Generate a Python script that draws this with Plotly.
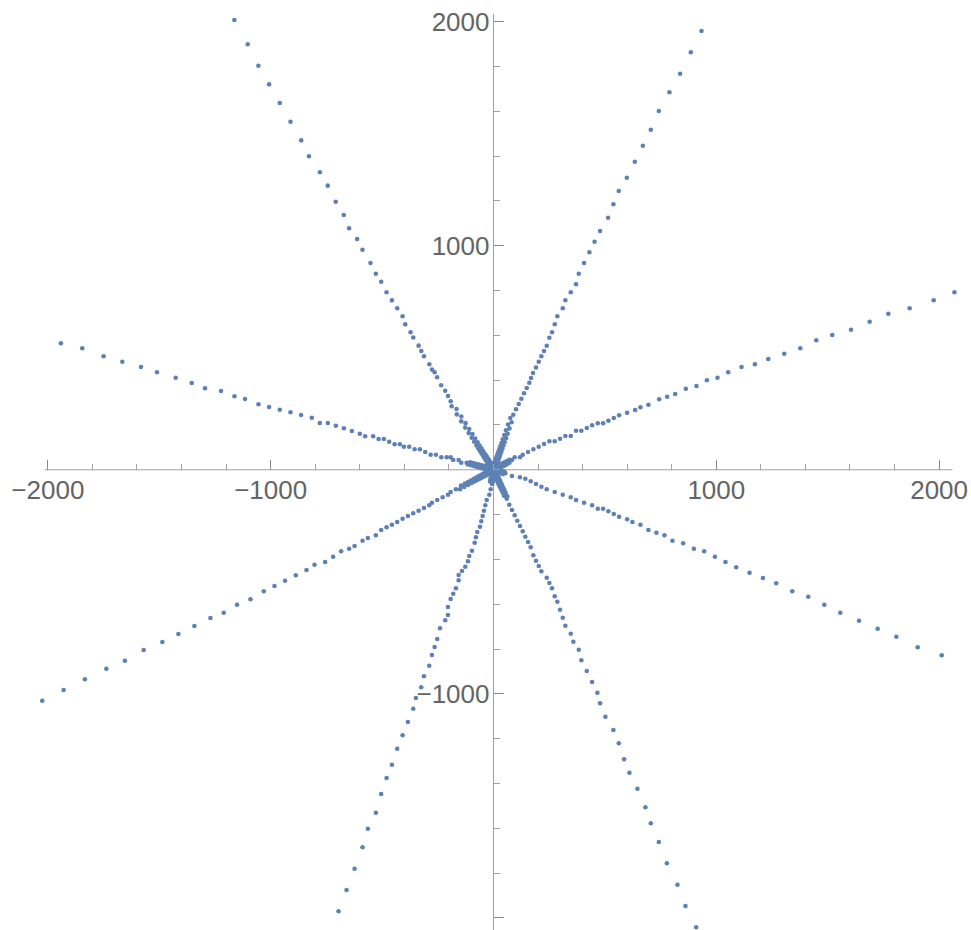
import math
import plotly.graph_objects as go

# ---- data (data units) ----
ul_x = [-1163, -1103, -1055, -1007, -959, -911, -863, -828, -779, -744, -708, -672, -648, -612, -588,
        -552, -528, -504, -480, -456, -432, -408, -396, -372, -360, -336, -324, -312, -288, -276, -264,
        -253, -235, -217, -204, -192]
ul_y = [2007, 1899, 1803, 1720, 1637, 1553, 1470, 1399, 1328, 1268, 1196, 1137, 1078, 1030, 982,
        923, 875, 839, 792, 756, 721, 685, 649, 614, 590, 554, 530, 507, 471, 447, 435,
        413, 377, 353, 329, 306]

ur_x = [933.5, 885.9, 837.8, 789.8, 742.1, 706.2, 670.3, 634.3, 598.4, 562.4, 538.2, 514.4, 478.4,
        453.7, 430.4, 406.6, 382.8, 370.6, 346.8, 322.6, 310.9, 286.6, 274.9, 262.8, 250.7, 239.0,
        226.9, 214.7, 203.1, 190.9, 177.5, 168.5, 160.8, 149.1, 137.0, 124.9, 113.2, 101.1, 88.9]
ur_y = [1958.1, 1863.0, 1767.5, 1684.5, 1601.1, 1517.6, 1446.2, 1374.8, 1303.4, 1244.1, 1184.7,
        1124.9, 1065.6, 1017.8, 970.5, 922.8, 875.1, 827.8, 792.1, 756.4, 720.7, 685.0, 649.3,
        613.6, 589.5, 553.8, 530.1, 506.5, 482.4, 456.5, 432.0, 409.6, 388.7, 365.0, 341.4, 317.3,
        293.6, 270.0, 245.9]

rup_x = [2068.8, 1975.8, 1867.9, 1772.2, 1688.2, 1604.7, 1520.7, 1448.8, 1376.9, 1305.0, 1233.2,
         1173.4, 1113.2, 1053.5, 1005.4, 957.8,
         911.1, 863.4, 815.4, 779.4, 743.5, 695.4, 659.5, 635.7, 599.7, 563.8, 540.0, 515.7, 491.9,
         468.1,
         442.5, 418.7, 394.4, 370.6, 346.8, 322.6, 298.7, 274.9, 250.7, 226.9, 203.1, 178.8, 155.0,
         131.2, 119.0, 95.2, 83.1]
rup_y = [792.1, 756.4, 720.7, 696.6, 660.9, 625.2, 601.5, 577.9, 542.2, 518.1, 494.4, 470.8, 458.7,
         435.1, 411.0, 399.4,
         373.9, 361.9, 338.2, 326.2, 314.6, 290.5, 278.9, 266.8, 254.8, 243.2, 231.1, 219.1, 207.5,
         207.5,
         198.6, 186.5, 174.5, 174.5, 150.8, 150.8, 138.8, 127.2, 127.2, 115.1, 103.1, 91.5, 79.4,
         67.4, 55.8, 55.8, 43.7]

rdn_x = [2011.7, 1903.9, 1808.2, 1724.2, 1640.6, 1556.6, 1484.7, 1412.9, 1341.0, 1269.1, 1209.4,
         1149.2, 1089.4, 1041.3, 993.7, 945.6,
         899.4, 851.3, 803.2, 767.3, 731.4, 695.4, 659.5, 623.5, 599.7, 563.8, 540.0, 515.7, 491.9,
         468.1,
         442.5, 406.6, 370.6, 346.8, 310.9, 274.9, 239.0, 214.7, 190.9, 167.1, 142.9, 119.0, 83.1, 53.0]
rdn_y = [-827.8, -792.1, -744.7, -709.1, -673.4, -637.7, -602.0, -566.3, -542.2, -506.5, -482.8,
         -459.2, -435.1, -411.4, -387.8, -363.7,
         -352.1, -328.0, -316.4, -292.3, -280.7, -268.6, -245.0, -232.9, -220.9, -209.3, -197.2,
         -185.2, -173.6, -173.6,
         -158.4, -146.8, -134.8, -122.7, -111.1, -99.1, -87.0, -75.4, -63.4, -51.3, -39.7, -33.5,
         -27.7, -15.6]

drt_x = [909.7, 861.6, 825.7, 778.1, 742.1, 706.2, 681.9, 646.0, 610.1, 586.3, 562.4, 538.2, 502.2,
         478.4, 466.3, 442.5,
         418.7, 394.4, 382.8, 358.5, 346.8, 322.6, 310.9, 298.7, 286.6, 274.9, 262.8, 250.7, 239.0,
         214.7, 203.1, 190.9, 178.8, 167.1, 155.0, 142.9, 131.2, 119.0, 106.9, 95.2, 83.1, 71.0, 59.3]
drt_y = [-2041.5, -1946.5, -1851.4, -1755.9, -1660.9, -1577.4, -1506.0, -1423.0, -1351.6, -1291.8,
         -1220.4, -1161.1, -1101.7, -1041.9, -994.6, -946.9,
         -897.8, -850.1, -802.8, -767.1, -731.4, -695.7, -660.0, -624.3, -588.6, -564.5, -528.8,
         -505.1, -481.5,
         -452.9, -429.3, -405.6, -381.5, -345.8, -322.2, -298.5, -274.4, -250.8, -227.1, -203.0,
         -179.4, -155.7, -129.0]

dlt_x = [-695.4, -659.5, -623.5, -587.6, -563.8, -527.9, -504.0, -479.8, -456.0, -432.2, -407.9,
         -384.1, -360.3, -348.2, -324.4,
         -312.2, -288.4, -276.3, -264.2, -252.5, -240.3, -216.5, -204.4, -204.4, -192.3, -180.6,
         -168.5, -156.3, -156.3,
         -141.5,
         -126.7, -114.6, -108.7, -96.6, -84.5, -78.6, -72.8, -60.6, -54.8, -48.5, -42.7, -36.8,
         -30.5, -18.9, -12.6, -6.7]
dlt_y = [-1970.1, -1875.1, -1780.0, -1684.5, -1601.5, -1530.1, -1446.7, -1375.3, -1315.9, -1244.5,
         -1184.7, -1125.4, -1066.0, -1018.3, -970.5,
         -921.5, -874.2, -826.4, -790.7, -755.0, -707.3, -671.6, -647.9, -612.2, -576.5, -552.9,
         -528.8, -493.1, -469.4,
         -451.6,
         -432.4, -408.3, -384.6, -361.0, -325.3, -301.2, -277.6, -253.9, -229.8, -206.2, -182.5,
         -158.4, -134.8, -111.1, -87.0, -63.4]

ldn_x = [-2025.2, -1929.5, -1833.8, -1737.7, -1654.1, -1570.1, -1486.1, -1414.2, -1342.3, -1270.4,
         -1210.7, -1150.9, -1090.8, -1031.0, -982.9, -935.3, -887.2, -839.2, -803.2, -755.6,
         -719.7, -683.7, -647.8, -623.5, -587.6, -563.8, -527.9, -504.0, -479.8, -456.0, -432.2,
         -407.9, -384.1, -360.3, -336.0, -312.2, -288.4, -276.3, -252.5, -228.2, -204.4, -192.3,
         -168.5]
ldn_y = [-1030.3, -982.6, -934.8, -887.5, -851.8, -804.1, -768.4, -732.7, -697.0, -661.3, -637.7,
         -602.0, -577.9, -542.2, -518.5, -494.9, -470.8, -447.1, -423.5, -411.4, -387.8, -363.7,
         -352.1, -340.0, -316.4, -304.3, -292.3, -268.6, -256.6, -245.0, -232.9,
         -218.2, -206.2, -194.1, -182.5, -170.5, -158.4, -146.8, -134.8, -122.7, -111.1, -99.1, -87.0]

lup_x = [-1941.6, -1845.5, -1749.8, -1665.8, -1582.2, -1510.3, -1426.3, -1354.5, -1294.7, -1222.8,
         -1162.6, -1115.0, -1054.8, -1007.2, -959.1, -911.1, -863.4, -815.4, -779.4, -743.5,
         -707.6, -671.6, -635.7, -599.7, -575.9, -540.0, -515.7, -491.9, -468.1, -443.8, -420.0,
         -402.1, -378.3, -354.0, -330.2, -306.4, -282.1, -258.3, -234.5, -210.2, -192.3, -180.6,
         -156.3, -144.7, -120.4]
lup_y = [564.5, 542.2, 506.5, 482.4, 458.7, 435.1, 411.0, 387.3, 363.7, 351.6, 328.0, 315.9, 292.3,
         280.2, 268.2, 256.6, 244.5, 232.5, 208.8, 208.8, 196.8, 185.2, 173.1, 161.1, 149.5, 149.5,
         137.4, 137.4, 125.4, 113.8, 113.8,
         103.1, 103.1, 91.5, 91.5, 79.4, 67.4, 67.4, 55.8, 55.8, 55.8, 43.7, 43.7, 31.7, 31.7]

# dense inner band (radii estimated along each arm) and arm directions near the centre (degrees)
inner_radii = [340, 318, 297, 278, 260, 243, 227, 212, 198, 185, 173, 162, 152, 142, 133, 125, 117,
               110, 103, 96, 90, 84, 78, 73, 68, 63, 58, 54, 50, 46, 42, 38, 34, 30, 26, 22, 18,
               14, 10, 6]
inner_band_halfwidth = 6  # the dense bands are about two dots wide near the centre
arm_names = ["UL", "UR", "R-up", "R-down", "D-right", "D-left", "L-down", "L-up"]
arm_xs = [ul_x, ur_x, rup_x, rdn_x, drt_x, dlt_x, ldn_x, lup_x]
arm_ys = [ul_y, ur_y, rup_y, rdn_y, drt_y, dlt_y, ldn_y, lup_y]
inner_angles = [122.5, 70.5, 28.0, -17.0, -65.0, -100.0, 208.0, 165.5]

x_ticks = [-2000, -1000, 1000, 2000]
y_ticks = [-2000, -1000, 1000, 2000]
tick_text = {-2000: "\u22122000", -1000: "\u22121000", 1000: "1000", 2000: "2000"}

# ---- build points ----
xs, ys = [], []
for ax_, ay_, ang in zip(arm_xs, arm_ys, inner_angles):
    xs += ax_
    ys += ay_
    r_last = math.hypot(ax_[-1], ay_[-1])
    a = math.radians(ang)
    k = 0
    for r in inner_radii:
        if r < 0.95 * r_last:
            s = inner_band_halfwidth if k % 2 == 0 else -inner_band_halfwidth
            xs.append(r * math.cos(a) - s * math.sin(a))
            ys.append(r * math.sin(a) + s * math.cos(a))
            k += 1

W, H = 971, 930
L, R, T, B = 45, 19, 14, 0
x_range = [-2014.8, 2059.8]          # extent of the drawn axes
y_range = [-2053.6, 2033.9]
px_per_unit_x = (W - L - R) / (x_range[1] - x_range[0])
pad_lo, pad_hi = 25, 25              # extra data room so edge points are not dropped
xr = [x_range[0] - pad_lo, x_range[1] + pad_hi]
L2 = L - pad_lo * px_per_unit_x
R2 = R - pad_hi * px_per_unit_x

x_pos = (0 - y_range[0]) / (y_range[1] - y_range[0])
y_pos = (0 - xr[0]) / (xr[1] - xr[0])

fig = go.Figure()
fig.add_trace(go.Scatter(
    x=xs, y=ys, mode="markers",
    marker=dict(size=4.6, color="rgb(94,129,181)", line=dict(width=0)),
    cliponaxis=False, hoverinfo="skip", showlegend=False,
))

axis_col = "#a0a0a0"
axis_font = dict(family="Liberation Sans, Arial, sans-serif", size=26, color="#646464")
common = dict(
    showgrid=False, zeroline=False, showline=False,
    ticks="inside", ticklen=10, tickwidth=1, tickcolor="#8a8a8a",
    tickfont=axis_font, fixedrange=True, anchor="free", automargin=False,
    minor=dict(tickmode="linear", tick0=0, dtick=200, ticks="inside", ticklen=6,
               tickwidth=1, tickcolor=axis_col, showgrid=False),
)
fig.update_layout(
    width=W, height=H,
    margin=dict(l=L2, r=R2, t=T, b=B, pad=0),
    paper_bgcolor="white", plot_bgcolor="white",
    xaxis=dict(range=xr, position=x_pos, side="bottom",
               tickmode="array", tickvals=x_ticks, ticktext=[tick_text[v] for v in x_ticks],
               ticklabelstandoff=2, **common),
    yaxis=dict(range=y_range, position=y_pos, side="left",
               tickmode="array", tickvals=y_ticks, ticktext=[tick_text[v] for v in y_ticks],
               ticklabelstandoff=4, **common),
    shapes=[
        dict(type="line", xref="x", yref="y", x0=x_range[0], x1=x_range[1], y0=0, y1=0,
             line=dict(color=axis_col, width=1), layer="below"),
        dict(type="line", xref="x", yref="y", x0=0, x1=0, y0=y_range[0], y1=y_range[1],
             line=dict(color=axis_col, width=1), layer="below"),
    ],
)
fig.write_html("out.html",
               config={"displayModeBar": False, "staticPlot": True},
               post_script="document.body.style.margin='0px';document.body.style.overflow='hidden';")
